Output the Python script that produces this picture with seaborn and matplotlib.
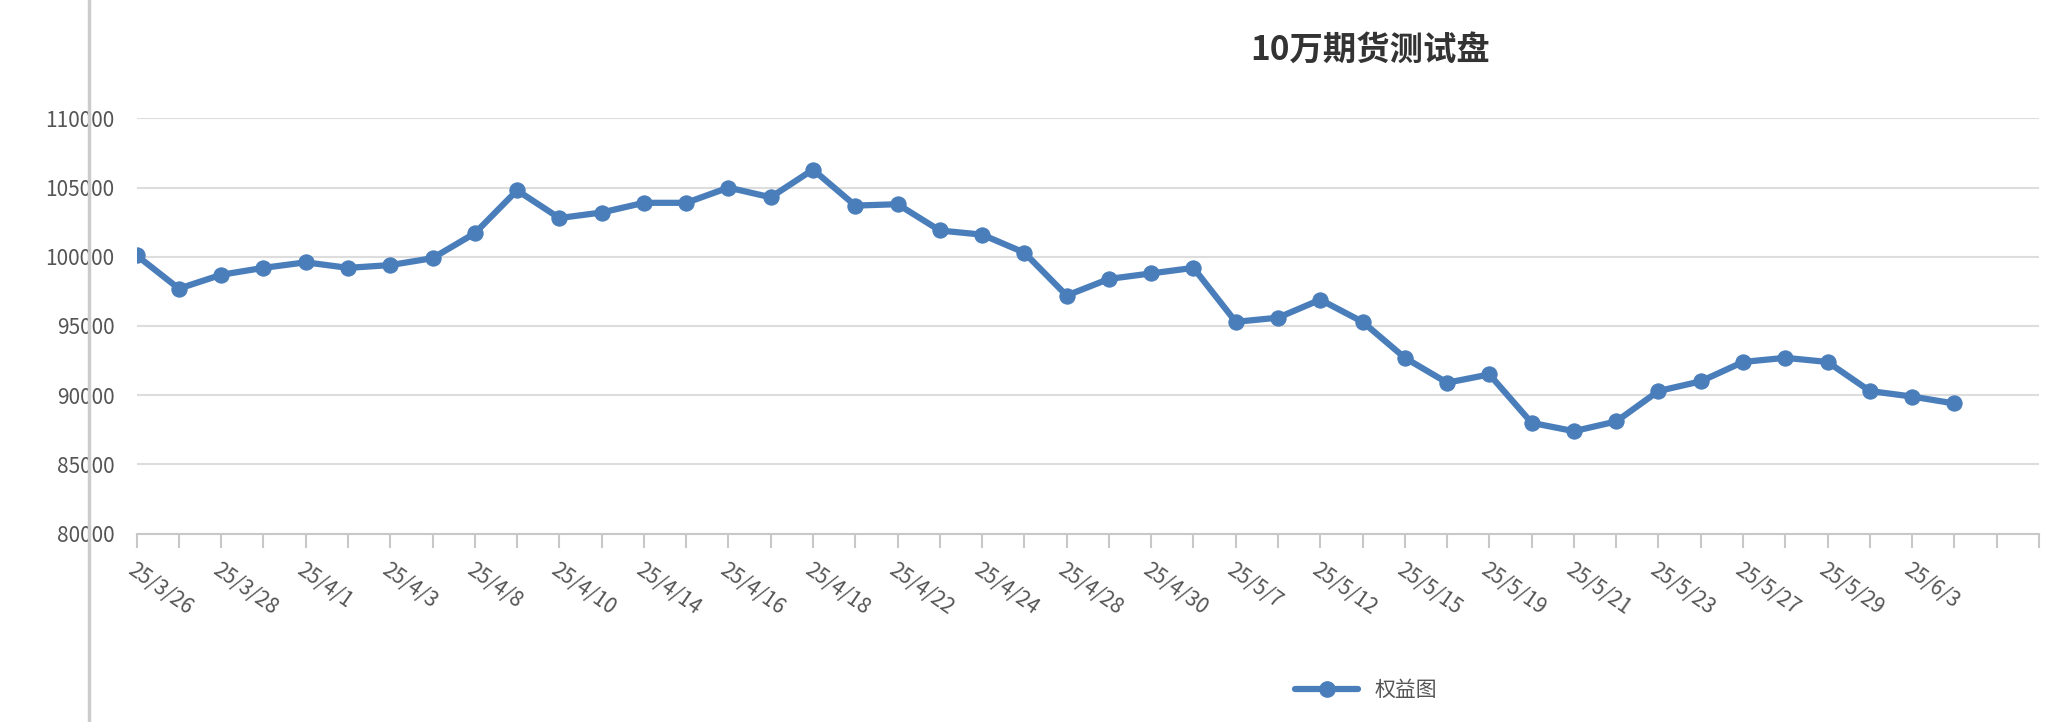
import matplotlib
matplotlib.use("Agg")
import matplotlib.pyplot as plt
import seaborn as sns
import pandas as pd
from matplotlib.lines import Line2D

dates = ["25/3/26","25/3/27","25/3/28","25/3/31","25/4/1","25/4/2","25/4/3","25/4/7","25/4/8","25/4/9",
         "25/4/10","25/4/11","25/4/14","25/4/15","25/4/16","25/4/17","25/4/18","25/4/21","25/4/22","25/4/23",
         "25/4/24","25/4/25","25/4/28","25/4/29","25/4/30","25/5/6","25/5/7","25/5/8","25/5/12","25/5/13",
         "25/5/15","25/5/16","25/5/19","25/5/20","25/5/21","25/5/22","25/5/23","25/5/26","25/5/27","25/5/28",
         "25/5/29","25/5/30","25/6/3","25/6/4"]
equity = [100100,97700,98700,99200,99600,99200,99400,99900,101700,104800,
          102800,103200,103900,103900,105000,104300,106300,103700,103800,101900,
          101600,100300,97200,98400,98800,99200,95300,95600,96900,95300,
          92700,90900,91500,88000,87400,88100,90300,91000,92400,92700,
          92400,90300,89900,89400]
yticks = [80000,85000,90000,95000,100000,105000,110000]

sns.set_theme(style="white")
plt.rcParams['font.family'] = ['Noto Sans CJK SC', 'DejaVu Sans']

df = pd.DataFrame({"x": range(len(equity)), "v": equity})
fig = plt.figure(figsize=(20.7, 7.22), dpi=100)
ax = fig.add_axes([0.066, 0.261, 0.919, 0.575])
color = "#4a7ebb"
sns.lineplot(data=df, x="x", y="v", ax=ax, color=color, lw=4.5, marker="o",
             markersize=11, markeredgecolor=color, markerfacecolor=color)
ax.set_xlim(0, 45)
ax.set_ylim(80000, 110000)
ax.set_yticks(yticks)
ax.set_yticklabels([str(v) for v in yticks], fontsize=15, color="#555555")
ax.yaxis.grid(True, color="#dddddd", lw=1.5)
ax.set_xticks(range(0, 46))
labels = [dates[i] if (i % 2 == 0 and i < len(dates)) else "" for i in range(46)]
ax.set_xticklabels(labels, rotation=-35, ha="left", rotation_mode="anchor",
                   fontsize=15, color="#555555")
ax.tick_params(axis="x", bottom=True, length=10, color="#c8c8c8", width=1.5, pad=8)
ax.tick_params(axis="y", left=False, pad=10)
for s in ["left", "right", "top"]:
    ax.spines[s].set_visible(False)
ax.spines["bottom"].set_color("#c8c8c8")
ax.spines["bottom"].set_linewidth(1.5)
ax.set_xlabel("")
ax.set_ylabel("")
fig.text(0.662, 0.93, "10万期货测试盘", ha="center", va="center", fontsize=24,
         fontweight="bold", color="#333333")
fig.add_artist(Line2D([0.043, 0.043], [0, 1], color="#cccccc", lw=2.5))
h = Line2D([], [], color=color, lw=4.5, marker="o", markersize=11)
fig.legend([h], ["权益图"], loc="center", bbox_to_anchor=(0.66, 0.044), frameon=False,
           fontsize=15, handlelength=3, labelcolor="#555555")
fig.savefig("out.png", dpi=100, facecolor="white")
